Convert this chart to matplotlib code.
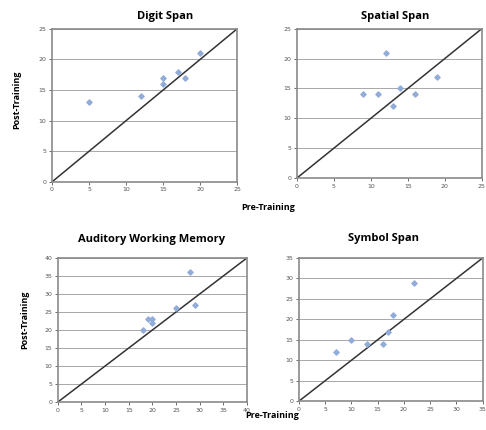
import matplotlib.pyplot as plt

digit_pre = [5, 12, 15, 15, 17, 18, 20]
digit_post = [13, 14, 16, 17, 18, 17, 21]

spatial_pre = [9, 11, 12, 13, 14, 16, 19]
spatial_post = [14, 14, 21, 12, 15, 14, 17]

auditory_pre = [18, 19, 20, 20, 25, 28, 29]
auditory_post = [20, 23, 23, 22, 26, 36, 27]

symbol_pre = [7, 10, 13, 16, 17, 18, 22]
symbol_post = [12, 15, 14, 14, 17, 21, 29]

panels = [
    ("Digit Span", digit_pre, digit_post, 25, 5, [0.107, 0.577, 0.381, 0.356], (165, 17)),
    ("Spatial Span", spatial_pre, spatial_post, 25, 5, [0.611, 0.586, 0.380, 0.347], (395, 17)),
    ("Auditory Working Memory", auditory_pre, auditory_post, 40, 5, [0.119, 0.065, 0.389, 0.335], (152, 239)),
    ("Symbol Span", symbol_pre, symbol_post, 35, 5, [0.615, 0.067, 0.378, 0.333], (383, 238)),
]

W, H = 486, 430
fig = plt.figure(figsize=(W / 100, H / 100), dpi=100)
fig.patch.set_facecolor("white")

for title, pre, post, top, step, rect, tpos in panels:
    ax = fig.add_axes(rect)
    ax.set_xlim(0, top)
    ax.set_ylim(0, top)
    ticks = list(range(0, top + 1, step))
    ax.set_xticks(ticks)
    ax.set_yticks(ticks)
    ax.tick_params(labelsize=4.5, colors="#555555", length=2, width=0.6,
                   pad=2)
    ax.grid(True, axis="y", color="#a8a8a8", linewidth=0.7)
    ax.set_axisbelow(True)
    for s in ax.spines.values():
        s.set_color("#8a8a8a")
        s.set_linewidth(1.2)
    ax.plot([0, top], [0, top], color="#333333", linewidth=1.1)
    ax.scatter(pre, post, marker="D", s=7, color="#92acd9", zorder=3)
    fig.text(tpos[0] / W, 1 - tpos[1] / H, title, ha="center", va="center",
             fontsize=8, fontweight="bold", family="Open Sans")

fig.text(17 / W, 1 - 100 / H, "Post-Training", rotation=90, ha="center",
         va="center", fontsize=6.5, fontweight="bold", family="Open Sans")
fig.text(25 / W, 1 - 320 / H, "Post-Training", rotation=90, ha="center",
         va="center", fontsize=6.5, fontweight="bold", family="Open Sans")
fig.text(268 / W, 1 - 208 / H, "Pre-Training", ha="center", va="center",
         fontsize=6.5, fontweight="bold", family="Open Sans")
fig.text(272 / W, 1 - 416 / H, "Pre-Training", ha="center", va="center",
         fontsize=6.5, fontweight="bold", family="Open Sans")

fig.savefig("out.png", dpi=100)
